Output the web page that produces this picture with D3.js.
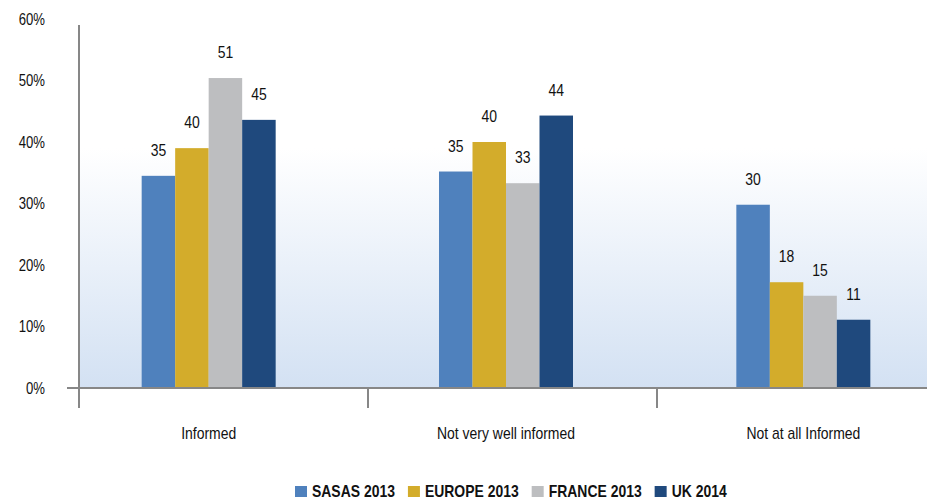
<!DOCTYPE html>
<html>
<head>
<meta charset="utf-8">
<script src="https://cdn.jsdelivr.net/npm/d3@7"></script>
<style>
  body { margin: 0; background: #fff; }
  text { font-family: "Liberation Sans", Arial, sans-serif; fill: #111; }
</style>
</head>
<body>
<div id="chart"></div>
<script>
// categories and series
var categories = ["Informed", "Not very well informed", "Not at all Informed"];
var seriesNames = ["SASAS 2013", "EUROPE 2013", "FRANCE 2013", "UK 2014"];
var seriesColors = ["#4f81bd", "#d3ac2b", "#bdbec0", "#1f497d"];

// bar heights (percent)
var sasas2013 = [34.5, 35.2, 29.8];
var europe2013 = [39.0, 40.0, 17.2];
var france2013 = [50.4, 33.3, 15.0];
var uk2014 = [43.6, 44.3, 11.1];

// the numbers printed above the bars
var sasasLabels = ["35", "35", "30"];
var europeLabels = ["40", "40", "18"];
var franceLabels = ["51", "33", "15"];
var ukLabels = ["45", "44", "11"];

var yTicks = [0, 10, 20, 30, 40, 50, 60];

var width = 927, height = 501;
var axisColor = "#878787";
var narrow = 0.82; // squeeze text to look like a condensed face

var series = [sasas2013, europe2013, france2013, uk2014];
var labels = [sasasLabels, europeLabels, franceLabels, ukLabels];

// compress a text selection horizontally
function condense(sel) {
  sel.each(function () {
    var len = this.getComputedTextLength();
    d3.select(this)
      .attr("textLength", len * narrow)
      .attr("lengthAdjust", "spacingAndGlyphs");
  });
}

var svg = d3.select("#chart").append("svg")
  .attr("width", width)
  .attr("height", height);

/* scales */
var yScale = d3.scaleLinear().domain([0, 60]).range([388, 19]);

// axis band (ticks between categories)
var xAxisScale = d3.scaleBand().domain(categories).range([79, 946]);
// group placement
var xScale = d3.scaleBand().domain(categories).range([60, 952]);
var groupWidth = 134;
var xInner = d3.scaleBand().domain(seriesNames).range([0, groupWidth]);

/* plot area background gradient */
var defs = svg.append("defs");
var grad = defs.append("linearGradient")
  .attr("id", "bg").attr("x1", 0).attr("y1", 0).attr("x2", 0).attr("y2", 1);
grad.append("stop").attr("offset", "0").attr("stop-color", "#ffffff");
grad.append("stop").attr("offset", "0.31").attr("stop-color", "#ffffff");
grad.append("stop").attr("offset", "1").attr("stop-color", "#d3e1f3");

svg.append("rect")
  .attr("x", 79).attr("y", yScale(56.5))
  .attr("width", width - 79).attr("height", yScale(0) - yScale(56.5))
  .attr("fill", "url(#bg)");

/* bars */
var rows = [];
categories.forEach(function (c, ci) {
  seriesNames.forEach(function (s, si) {
    rows.push({ cat: c, name: s, value: series[si][ci], label: labels[si][ci], color: seriesColors[si] });
  });
});

var groupLeft = function (c) { return xScale(c) + xScale.bandwidth() / 2 - groupWidth / 2; };

svg.append("g").selectAll("rect")
  .data(rows).join("rect")
  .attr("x", d => groupLeft(d.cat) + xInner(d.name))
  .attr("y", d => yScale(d.value))
  .attr("width", xInner.bandwidth())
  .attr("height", d => yScale(0) - yScale(d.value))
  .attr("fill", d => d.color);

// value labels
svg.append("g").selectAll("text")
  .data(rows).join("text")
  .attr("x", d => groupLeft(d.cat) + xInner(d.name) + xInner.bandwidth() / 2)
  .attr("y", d => yScale(d.value) - 20)
  .attr("text-anchor", "middle")
  .style("font-size", "17px")
  .text(d => d.label)
  .call(condense);

/* axes */
// y axis line
svg.append("line")
  .attr("x1", 79).attr("x2", 79)
  .attr("y1", 25).attr("y2", 408)
  .attr("stroke", axisColor).attr("stroke-width", 2);

// x axis line
svg.append("line")
  .attr("x1", 67).attr("x2", width)
  .attr("y1", yScale(0)).attr("y2", yScale(0))
  .attr("stroke", axisColor).attr("stroke-width", 2);

// category separators
svg.append("g").selectAll("line")
  .data(categories.slice(1)).join("line")
  .attr("x1", d => xAxisScale(d)).attr("x2", d => xAxisScale(d))
  .attr("y1", yScale(0)).attr("y2", 408)
  .attr("stroke", axisColor).attr("stroke-width", 2);

// y tick labels
svg.append("g").selectAll("text")
  .data(yTicks).join("text")
  .attr("x", 45)
  .attr("y", d => yScale(d))
  .attr("dy", "0.35em")
  .attr("text-anchor", "end")
  .style("font-size", "16px")
  .text(d => d + "%")
  .call(condense);

// category labels
svg.append("g").selectAll("text")
  .data(categories).join("text")
  .attr("x", d => xScale(d) + xScale.bandwidth() / 2)
  .attr("y", 439)
  .attr("text-anchor", "middle")
  .style("font-size", "17px")
  .text(d => d)
  .call(condense);

/* legend */
var legend = svg.append("g");
var lx = 295;
seriesNames.forEach(function (name, i) {
  legend.append("rect")
    .attr("x", lx).attr("y", 486)
    .attr("width", 12).attr("height", 11)
    .attr("fill", seriesColors[i]);
  var t = legend.append("text")
    .attr("x", lx + 17).attr("y", 497)
    .style("font-size", "17px")
    .style("font-weight", "bold")
    .text(name)
    .call(condense);
  lx += 17 + (+t.attr("textLength")) + 13;
});
</script>
</body>
</html>
